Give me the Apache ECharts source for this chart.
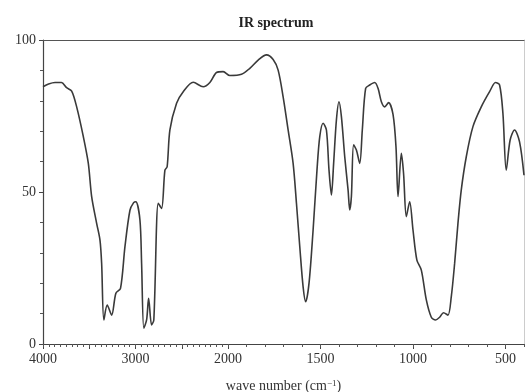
<!DOCTYPE html>
<html>
<head>
<meta charset="utf-8">
<script src="https://cdn.jsdelivr.net/npm/echarts@6/dist/echarts.min.js"></script>
<style>
html,body{margin:0;padding:0;background:#fff;}
#chart{width:526px;height:392px;}
</style>
</head>
<body>
<div id="chart"></div>
<script>
// Data
const wavenumbers = [4000,3940,3870,3800,3745,3690,3636,3564,3510,3474,3420,3384,3366,3342,3306,3258,3212,3162,3114,3060,3020,2996,2952,2934,2910,2880,2858,2826,2802,2754,2718,2682,2658,2628,2556,2484,2376,2268,2196,2124,2052,1990,1927,1882,1837,1792,1756,1729,1702,1675,1648,1630,1612,1594,1580,1562,1540,1519,1504,1486,1468,1454,1441,1429,1414,1400,1387,1369,1351,1342,1333,1321,1306,1288,1274,1256,1234,1207,1189,1171,1153,1132,1108,1092,1081,1063,1051,1036,1018,1000,979,955,928,901,878,856,835,811,793,775,757,739,712,676,631,586,554,532,514,496,475,451,424,400];
const transmittance = [84.6,85.5,86,86,84.3,83.2,78,68.2,59.4,48.5,39.7,34.2,26.5,7.9,12.8,9.5,16.7,18.3,32,44,46.5,46.8,40.8,26.5,5.2,7.9,15,6.3,7.9,46.3,44.6,57.2,58.3,70.4,79.2,83,86.1,84.6,86,89.3,89.6,88.3,88.7,90.7,93.4,95.1,93.6,90.1,81.3,70.4,59.4,46.3,32,18.8,13.9,20,37.5,57.2,68.2,72.6,70.4,57.2,49,59.4,73.7,79.7,74.8,61.6,50.7,44.1,48.5,65.5,63.8,59.4,70.4,84.1,85.2,86,84.1,79.7,78,79.4,75.5,64.9,48.5,62.7,56.1,41.9,46.8,37.5,27.6,24.3,14.5,8.8,7.9,8.8,10.3,9.5,15.6,26.5,39.7,50.7,61.6,71.5,78,83,86,85.2,75.9,57.2,67.1,70.4,66.5,55.5];
const xTickLabels = [4000,3000,2000,1500,1000,500];
const xMajorTicks = [4000,3500,3000,2500,2000,1500,1000,500];
const xRange = [4000,400];
const yTickLabels = [0,50,100];
const titleText = 'IR spectrum';

// Split wavenumber scale: 4000-2000 is drawn at half the scale of 2000-400
function toU(wn){ return wn >= 2000 ? (4000 - wn) / 2 : 1000 + (2000 - wn); }
function fromU(u){ return u <= 1000 ? 4000 - 2 * u : 2000 - (u - 1000); }

const minorTicks = [];
for (let w = 4000; w > 2000; w -= 62.5) minorTicks.push(toU(w));
for (let w = 2000; w >= 400; w -= 100) minorTicks.push(toU(w));

const seriesData = wavenumbers.map((w, i) => [toU(w), transmittance[i]]);
const font = "'Liberation Serif','Times New Roman',serif";
const uMin = toU(xRange[0]), uMax = toU(xRange[1]);

const chart = echarts.init(document.getElementById('chart'), null, {renderer:'canvas'});
chart.setOption({
  animation: false,
  title: {
    text: titleText, left: 271, top: 11, textAlign: 'center',
    textStyle: {fontFamily: font, fontSize: 14, fontWeight: 'bold', color: '#222'}
  },
  grid: {left: 43, right: 2, top: 40, bottom: 48, show: false, containLabel: false, outerBoundsMode: 'none'},
  xAxis: [
    {
      type: 'value', min: uMin, max: uMax, position: 'bottom', offset: 0,
      axisLine: {show: true, onZero: false, lineStyle: {color: '#444', width: 1.2}},
      axisTick: {show: true, length: 5, lineStyle: {color: '#444'}, customValues: xMajorTicks.map(toU)},
      axisLabel: {
        show: true, margin: 8, customValues: xTickLabels.map(toU),
        formatter: v => String(Math.round(fromU(v))),
        fontFamily: font, fontSize: 14, color: '#333'
      },
      splitLine: {show: false},
      name: 'wave number (cm{sup|−1})', nameLocation: 'middle', nameGap: 35,
      nameTextStyle: {fontFamily: font, fontSize: 14, color: '#333',
        rich: {sup: {fontFamily: font, fontSize: 9, color: '#333', verticalAlign: 'top', padding: [0,0,6,0]}}}
    },
    {
      type: 'value', min: uMin, max: uMax, position: 'bottom', offset: 0,
      axisLine: {show: false, onZero: false},
      axisTick: {show: true, length: 3, lineStyle: {color: '#555'}, customValues: minorTicks},
      axisLabel: {show: false}, splitLine: {show: false}
    },
    {
      type: 'value', min: uMin, max: uMax, position: 'top', offset: 0,
      axisLine: {show: true, onZero: false, lineStyle: {color: '#555', width: 1.2}},
      axisTick: {show: false}, axisLabel: {show: false}, splitLine: {show: false}
    }
  ],
  yAxis: [
    {
      type: 'value', min: yTickLabels[0], max: yTickLabels[yTickLabels.length - 1], interval: 50, position: 'left',
      axisLine: {show: true, onZero: false, lineStyle: {color: '#444', width: 1.2}},
      axisTick: {show: true, length: 4, lineStyle: {color: '#444'}},
      minorTick: {show: true, splitNumber: 5, length: 3, lineStyle: {color: '#555'}},
      axisLabel: {margin: 7, fontFamily: font, fontSize: 14, color: '#333'},
      splitLine: {show: false}
    },
    {
      type: 'value', min: 0, max: 100, position: 'right',
      axisLine: {show: true, onZero: false, lineStyle: {color: '#ccc', width: 1}},
      axisTick: {show: false}, axisLabel: {show: false}, splitLine: {show: false}
    }
  ],
  series: [{
    type: 'line', xAxisIndex: 0, yAxisIndex: 0, data: seriesData,
    showSymbol: false, smooth: 0.3,
    lineStyle: {color: '#3a3a3a', width: 1.6}
  }]
});
</script>
</body>
</html>
